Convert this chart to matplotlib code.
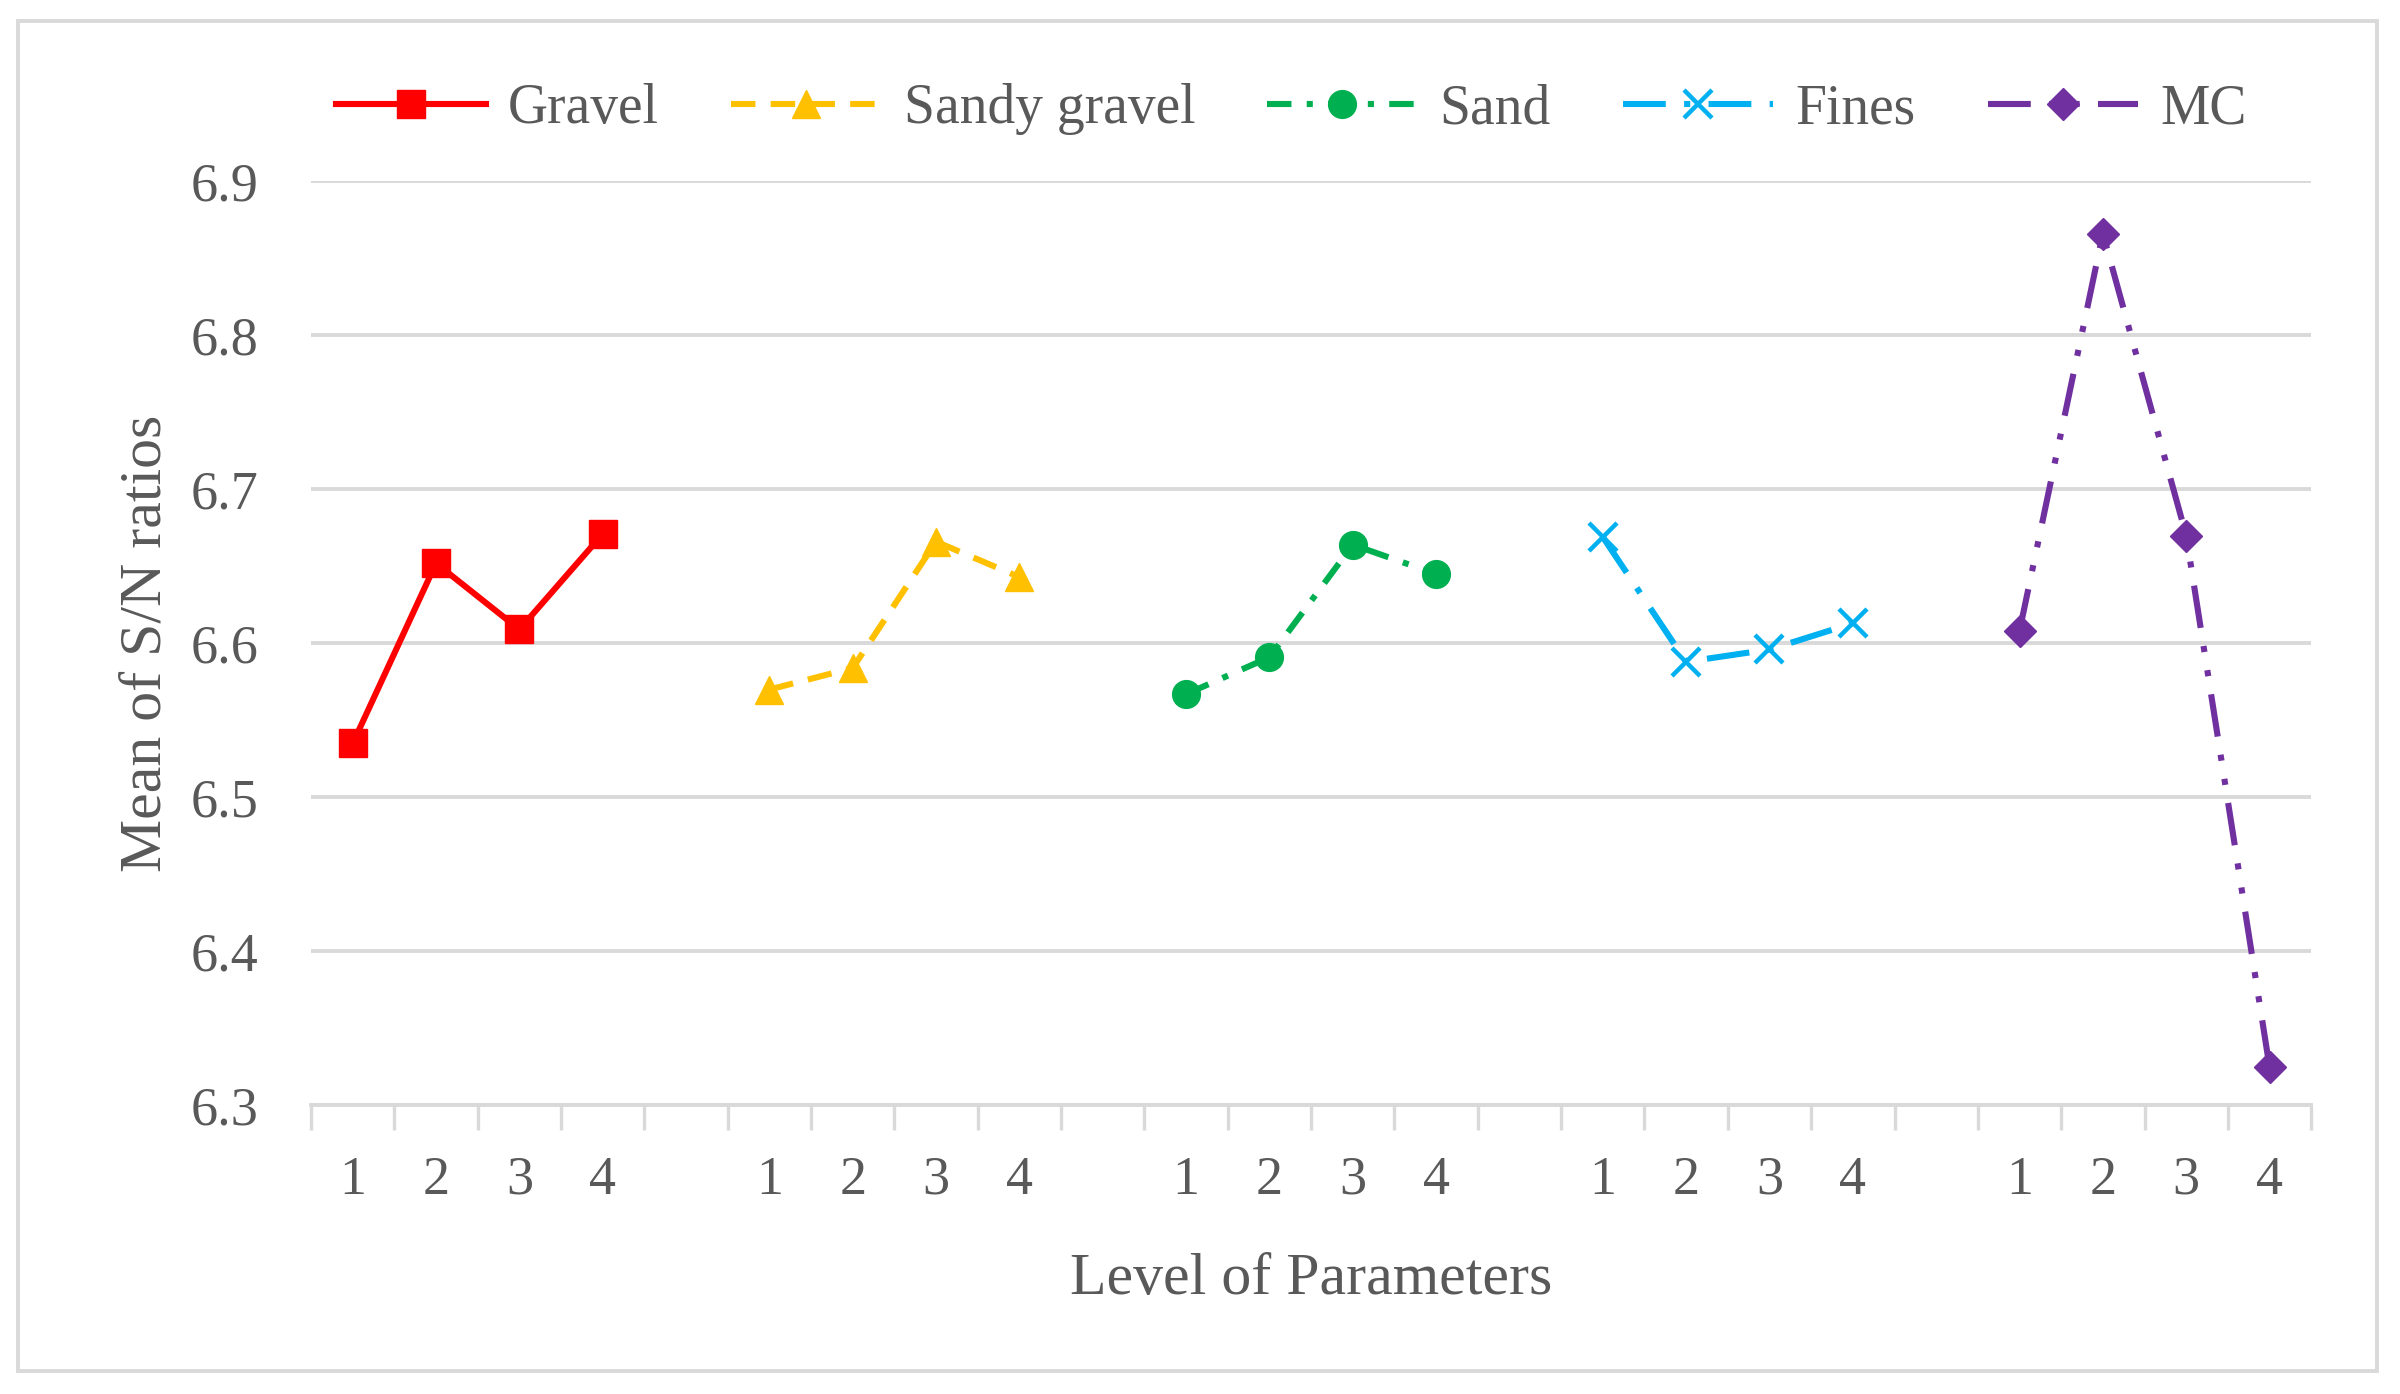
import matplotlib
matplotlib.use('Agg')
import matplotlib.pyplot as plt
from matplotlib.patches import Rectangle
import numpy as np

plt.rcParams['font.family'] = ['Liberation Serif', 'DejaVu Serif']

# data
levels = ['1', '2', '3', '4']
series = ['Gravel', 'Sandy gravel', 'Sand', 'Fines', 'MC']
gravel = [6.535, 6.652, 6.609, 6.671]
sandyGravel = [6.570, 6.584, 6.666, 6.643]
sand = [6.567, 6.591, 6.664, 6.645]
fines = [6.669, 6.588, 6.596, 6.613]
mc = [6.608, 6.866, 6.670, 6.325]
yTicks = [6.3, 6.4, 6.5, 6.6, 6.7, 6.8, 6.9]

allValues = [gravel, sandyGravel, sand, fines, mc]
colors = ['#FF0000', '#FFC000', '#00B050', '#00B0F0', '#7030A0']
markers = ['s', '^', 'o', 'x', 'D']
markerSizes = [10, 10, 10, 10, 8]
dashes = [None, (4, 2.5), (4, 2.5, 1, 2.5), (7, 3, 1, 3), (7, 3, 1, 3, 1, 3)]

textColor = '#595959'
gridColor = '#D9D9D9'

fig = plt.figure(figsize=(12, 6.97), dpi=200)
ax = fig.add_axes([0.1296, 0.207, 0.8334, 0.663])

nGroup = len(levels) + 1  # four levels plus one blank slot
for i, name in enumerate(series):
    xs = np.arange(len(levels)) + i * nGroup + 0.5
    line, = ax.plot(xs, allValues[i], color=colors[i], lw=2.2,
                    marker=markers[i], markersize=markerSizes[i],
                    markeredgewidth=1.6 if markers[i] == 'x' else 0.5,
                    markeredgecolor=colors[i], label=name)
    if dashes[i] is not None:
        line.set_dashes(dashes[i])

nCat = len(series) * nGroup - 1
ax.set_xlim(0, nCat)
ax.set_ylim(yTicks[0], yTicks[-1])
ax.set_yticks(yTicks)
ax.set_yticklabels([f'{t:.1f}' for t in yTicks])

# category boundaries as major ticks, labels at category centres
ax.set_xticks(np.arange(nCat + 1))
ax.set_xticklabels([])
labelPos = []
labelTxt = []
for i in range(len(series)):
    for j, lv in enumerate(levels):
        labelPos.append(i * nGroup + j + 0.5)
        labelTxt.append(lv)
ax.set_xticks(labelPos, minor=True)
ax.set_xticklabels(labelTxt, minor=True)
ax.tick_params(axis='x', which='major', length=9, width=1.2, color=gridColor,
               direction='out')
ax.tick_params(axis='x', which='minor', length=0, pad=18,
               labelsize=19.5, labelcolor=textColor)
ax.tick_params(axis='y', length=0, pad=19, labelsize=19.5,
               labelcolor=textColor)

ax.grid(axis='y', color=gridColor, lw=1.4)
ax.set_axisbelow(True)
for side in ['top', 'right', 'left']:
    ax.spines[side].set_visible(False)
ax.spines['bottom'].set_color(gridColor)
ax.spines['bottom'].set_linewidth(1.4)

ax.set_xlabel('Level of Parameters', fontsize=21.5, color=textColor,
              labelpad=17)
ax.set_ylabel('Mean of S/N ratios', fontsize=21.5, color=textColor,
              labelpad=6)

ax.legend(loc='center', bbox_to_anchor=(0.49, 1.078), ncol=5, frameon=False,
          fontsize=20, labelcolor=textColor, handlelength=2.7,
          columnspacing=1.3, handletextpad=0.4)

fig.patches.append(Rectangle((0.0075, 0.0165), 0.983, 0.9685,
                             transform=fig.transFigure, fill=False,
                             edgecolor=gridColor, lw=1.4))

fig.savefig('out.png', dpi=200)
